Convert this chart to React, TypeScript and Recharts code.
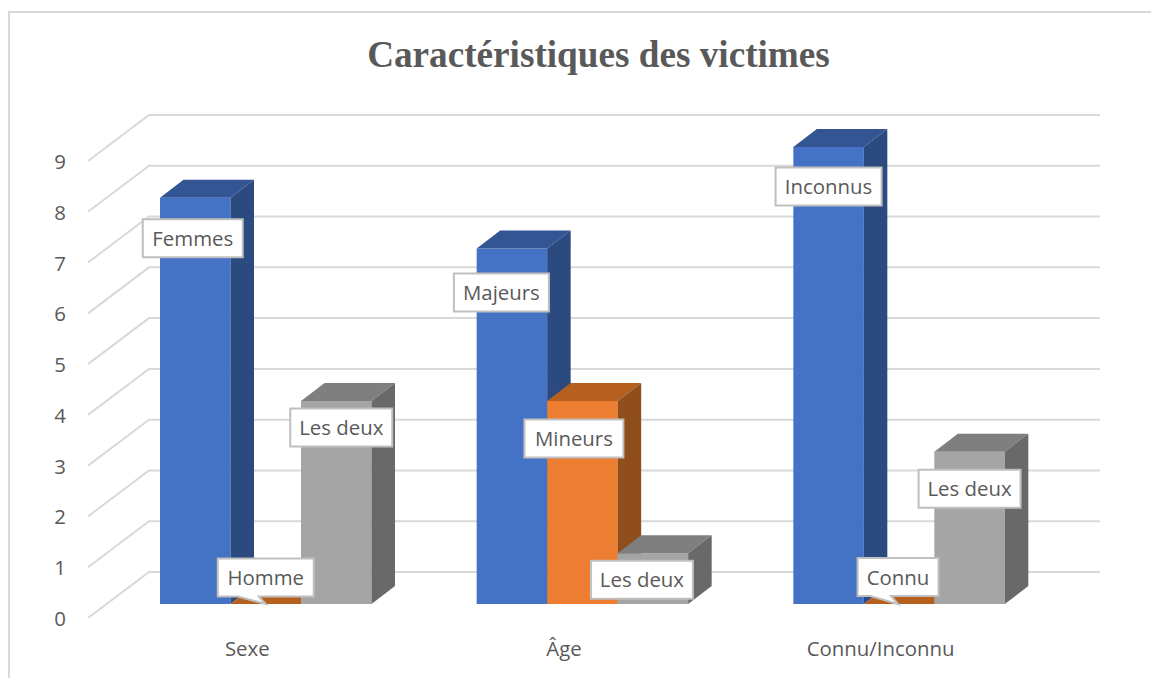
import React from 'react';
import { BarChart, Bar, XAxis, YAxis, CartesianGrid, LabelList } from 'recharts';

const categories = ['Sexe', 'Âge', 'Connu/Inconnu'];
const blueValues = [8, 7, 9];
const orangeValues = [0, 4, 0];
const grayValues = [4, 1, 3];
const blueNames = ['Femmes', 'Majeurs', 'Inconnus'];
const orangeNames = ['Homme', 'Mineurs', 'Connu'];
const grayNames = ['Les deux', 'Les deux', 'Les deux'];
const yTicks = [0, 1, 2, 3, 4, 5, 6, 7, 8, 9];

const chartData = categories.map((name, i) => ({
  name,
  blue: blueValues[i],
  orange: orangeValues[i],
  gray: grayValues[i],
}));

// label box placement, relative to the top centre of its bar
const blueBoxes = [
  { dx: -2.5, dy: 40.5, w: 100 },
  { dx: -10.5, dy: 44, w: 95 },
  { dx: 0, dy: 39.5, w: 106 },
];
const orangeBoxes = [
  { dx: 0, dy: -26.5, w: 96, tip: true },
  { dx: -8.5, dy: 37.5, w: 99 },
  { dx: -1, dy: -27, w: 81, tip: true },
];
const grayBoxes = [
  { dx: 5, dy: 26.5, w: 102 },
  { dx: -11, dy: 26.5, w: 102 },
  { dx: 0, dy: 37, w: 102 },
];

const FONT = '"Open Sans", sans-serif';
const TEXT = '#595959';
const GRID = '#D9D9D9';
const DEPTH_X = 23.5;
const DEPTH_Y = 18;

const makeBar = (front: string, top: string, side: string) => (props: any) => {
  const { x, y, width, height } = props;
  const r = x + width;
  const b = y + height;
  return (
    <g>
      <rect x={x} y={y} width={width} height={height} fill={front} />
      <polygon points={`${x},${y} ${x + DEPTH_X},${y - DEPTH_Y} ${r + DEPTH_X},${y - DEPTH_Y} ${r},${y}`} fill={top} />
      <polygon points={`${r},${y} ${r + DEPTH_X},${y - DEPTH_Y} ${r + DEPTH_X},${b - DEPTH_Y} ${r},${b}`} fill={side} />
    </g>
  );
};

const makeLabel = (names: string[], boxes: any[]) => (props: any) => {
  const { x, y, width, index } = props;
  const box = boxes[index];
  const cx = x + width / 2 + box.dx;
  const cy = y + box.dy;
  const h = 38;
  const left = cx - box.w / 2;
  const right = cx + box.w / 2;
  const topY = cy - h / 2;
  const bottom = cy + h / 2;
  const outline = box.tip
    ? `M${left} ${topY} H${right} V${bottom} H${cx - 7} L${cx} ${y} L${cx - 28} ${bottom} H${left} Z`
    : `M${left} ${topY} H${right} V${bottom} H${left} Z`;
  return (
    <g>
      <path d={outline} fill="#FFFFFF" stroke="#BFBFBF" strokeWidth={2} />
      <text x={cx} y={cy + 7.5} textAnchor="middle" fontFamily={FONT} fontSize={20.4} fill={TEXT}>
        {names[index]}
      </text>
    </g>
  );
};

// the grid runs across the floor from the axis, then along the back wall
const gridLine = (props: any) => (
  <path
    key={props.index}
    d={`M88 ${props.y1 + 14} L149 ${props.y1 - 32} H1100`}
    fill="none"
    stroke={GRID}
    strokeWidth={2}
  />
);

const XTick = ({ x, payload }: any) => (
  <text x={x - 18} y={656} textAnchor="middle" fontFamily={FONT} fontSize={20.4} fill={TEXT}>
    {payload.value}
  </text>
);

const YTick = ({ y, payload }: any) => (
  <text x={60} y={y + 22} textAnchor="middle" fontFamily={FONT} fontSize={20.4} fill={TEXT}>
    {payload.value}
  </text>
);

export default function App() {
  return (
    <div style={{ position: 'absolute', left: 0, top: 0, width: 1151, height: 678, overflow: 'hidden', background: '#fff' }}>
      <div
        style={{
          position: 'absolute',
          left: 8,
          top: 11,
          width: 1200,
          height: 700,
          borderLeft: `2px solid ${GRID}`,
          borderTop: `2px solid ${GRID}`,
        }}
      />
      <div
        style={{
          position: 'absolute',
          left: 0,
          top: 32,
          width: 1197,
          textAlign: 'center',
          fontFamily: '"Liberation Serif", serif',
          fontWeight: 'bold',
          fontSize: 37.2,
          lineHeight: '46px',
          color: TEXT,
        }}
      >
        Caractéristiques des victimes
      </div>
      <div style={{ position: 'absolute', left: 0, top: 0 }}>
        <BarChart
          width={1151}
          height={678}
          data={chartData}
          margin={{ top: 147, right: 94, bottom: 73, left: 106 }}
          barSize={70.5}
          barGap={0}
        >
          <CartesianGrid vertical={false} horizontal={gridLine} stroke={GRID} />
          <XAxis dataKey="name" height={1} axisLine={false} tickLine={false} tick={<XTick />} interval={0} />
          <YAxis width={1} domain={[0, 9]} ticks={yTicks} axisLine={false} tickLine={false} tick={<YTick />} interval={0} />
          <Bar dataKey="blue" isAnimationActive={false} shape={makeBar('#4472C4', '#335593', '#2A4A80')}>
            <LabelList dataKey="blue" content={makeLabel(blueNames, blueBoxes)} />
          </Bar>
          <Bar dataKey="orange" isAnimationActive={false} shape={makeBar('#ED7D31', '#B5601F', '#8F4E1B')}>
            <LabelList dataKey="orange" content={makeLabel(orangeNames, orangeBoxes)} />
          </Bar>
          <Bar dataKey="gray" isAnimationActive={false} shape={makeBar('#A5A5A5', '#7F7F7F', '#696969')}>
            <LabelList dataKey="gray" content={makeLabel(grayNames, grayBoxes)} />
          </Bar>
        </BarChart>
      </div>
    </div>
  );
}
